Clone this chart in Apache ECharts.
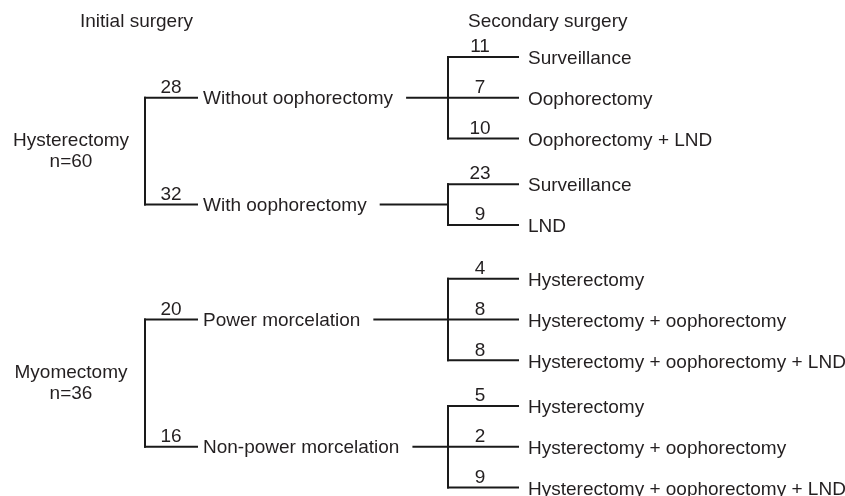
<!DOCTYPE html>
<html><head><meta charset="utf-8">
<script src="https://cdn.jsdelivr.net/npm/echarts@6/dist/echarts.min.js"></script>
<style>html,body{margin:0;padding:0;background:#fff}#c{width:845px;height:496px}</style>
</head><body><div id="c"></div>
<script>
// ---- data ----
const headers = ['Initial surgery', 'Secondary surgery'];
const initialGroups = ['Hysterectomy', 'Myomectomy'];
const initialTotals = [60, 36];
const initialBranches = [['Without oophorectomy', 'With oophorectomy'], ['Power morcelation', 'Non-power morcelation']];
const initialCounts = [[28, 32], [20, 16]];
const secondaryLabels = [
  [['Surveillance', 'Oophorectomy', 'Oophorectomy + LND'], ['Surveillance', 'LND']],
  [['Hysterectomy', 'Hysterectomy + oophorectomy', 'Hysterectomy + oophorectomy + LND'],
   ['Hysterectomy', 'Hysterectomy + oophorectomy', 'Hysterectomy + oophorectomy + LND']]
];
const secondaryCounts = [[[11, 7, 10], [23, 9]], [[4, 8, 8], [5, 2, 9]]];

// ---- layout / style constants ----
const FONT = '"Liberation Sans", Arial, Helvetica, sans-serif';
const FS = 19;
const TXT = '#231f20';
const LINE = '#1a1a1a';
const X = {root: 71, br1: 145, seg1: 197, lab1: 203, br2: 448, seg2: 518, lab2: 528, num2: 480, hdr1: 80, hdr2: 468};
const SUB_GAP = 0.12, GROUP_GAP = 0.2, CONNECT_GAP = 14;

const ctx = document.createElement('canvas').getContext('2d');
ctx.font = FS + 'px ' + FONT;
const tw = s => ctx.measureText(s).width;

const segs = [];   // [x1,y1,x2,y2]
const texts = [];  // {x,y,text,align,dy}
let pos = 0;
initialGroups.forEach((g, gi) => {
  const parentYs = [];
  initialBranches[gi].forEach((b, bi) => {
    const leafYs = [];
    secondaryLabels[gi][bi].forEach((lab, li) => {
      leafYs.push(pos);
      segs.push([X.br2, pos, X.seg2, pos]);
      texts.push({x: X.num2, y: pos, text: String(secondaryCounts[gi][bi][li]), align: 'center', dy: -10});
      texts.push({x: X.lab2, y: pos, text: lab, align: 'left', dy: 2});
      pos += 1;
    });
    pos += SUB_GAP;
    const py = (leafYs[0] + leafYs[leafYs.length - 1]) / 2;
    parentYs.push(py);
    segs.push([X.br2, leafYs[0], X.br2, leafYs[leafYs.length - 1]]);
    segs.push([X.br1, py, X.seg1, py]);
    segs.push([X.lab1 + tw(b) + CONNECT_GAP, py, X.br2, py]);
    texts.push({x: (X.br1 + X.seg1) / 2, y: py, text: String(initialCounts[gi][bi]), align: 'center', dy: -10});
    texts.push({x: X.lab1, y: py, text: b, align: 'left', dy: 1});
  });
  pos += GROUP_GAP;
  const ry = (parentYs[0] + parentYs[parentYs.length - 1]) / 2;
  segs.push([X.br1, parentYs[0], X.br1, parentYs[parentYs.length - 1]]);
  texts.push({x: X.root, y: ry, text: g + '\nn=' + initialTotals[gi], align: 'center', dy: 0});
});
const maxY = pos - SUB_GAP - GROUP_GAP - 1;

const chart = echarts.init(document.getElementById('c'), null, {renderer: 'canvas'});
chart.setOption({
  animation: false,
  backgroundColor: '#fff',
  grid: {left: 0, right: 0, top: 57, bottom: 8.5},
  xAxis: {type: 'value', min: 0, max: 845, show: false},
  yAxis: {type: 'value', min: 0, max: maxY, inverse: true, show: false},
  graphic: headers.map((h, i) => ({
    type: 'text', x: i === 0 ? X.hdr1 : X.hdr2, y: 22,
    style: {text: h, fill: TXT, fontSize: FS, fontFamily: FONT, verticalAlign: 'middle'}
  })),
  series: [
    {
      type: 'custom', silent: true, clip: false,
      data: segs,
      renderItem: (params, api) => {
        const s = segs[params.dataIndex];
        const p1 = api.coord([s[0], s[1]]), p2 = api.coord([s[2], s[3]]);
        return {type: 'line', shape: {x1: p1[0], y1: p1[1], x2: p2[0], y2: p2[1]},
          style: {stroke: LINE, lineWidth: 2, lineCap: 'square'}};
      }
    },
    {
      type: 'custom', silent: true, clip: false,
      data: texts.map(t => [t.x, t.y]),
      renderItem: (params, api) => {
        const t = texts[params.dataIndex];
        const p = api.coord([t.x, t.y]);
        return {type: 'text', x: p[0], y: p[1] + t.dy,
          style: {text: t.text, fill: TXT, fontSize: FS, fontFamily: FONT,
            align: t.align, verticalAlign: 'middle', lineHeight: 21}};
      }
    }
  ]
});
</script></body></html>
